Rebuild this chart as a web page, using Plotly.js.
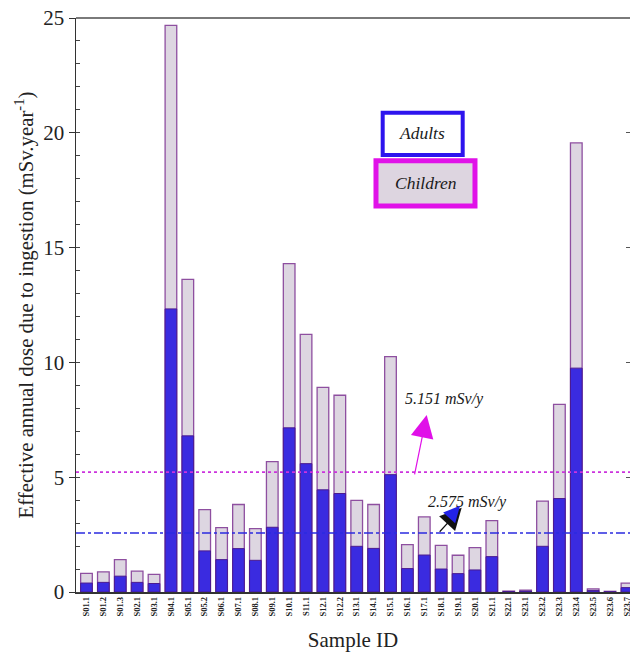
<!DOCTYPE html>
<html>
<head>
<meta charset="utf-8">
<script src="https://cdn.plot.ly/plotly-3.0.1.min.js"></script>
<style>html,body{margin:0;padding:0;background:#fff;}#chart{width:630px;height:652px;}</style>
</head>
<body>
<div id="chart"></div>
<script>
const sampleIds = ["S01.1","S01.2","S01.3","S02.1","S03.1","S04.1","S05.1","S05.2","S06.1","S07.1","S08.1","S09.1","S10.1","S11.1","S12.1","S12.2","S13.1","S14.1","S15.1","S16.1","S17.1","S18.1","S19.1","S20.1","S21.1","S22.1","S23.1","S23.2","S23.3","S23.4","S23.5","S23.6","S23.7"];
const childrenDose = [0.81,0.88,1.41,0.91,0.77,24.68,13.62,3.59,2.80,3.81,2.76,5.68,14.30,11.22,8.91,8.57,3.99,3.81,10.25,2.06,3.27,2.03,1.60,1.93,3.11,0.04,0.08,3.96,8.17,19.56,0.14,0.03,0.39];
const adultsDose = [0.39,0.42,0.69,0.42,0.37,12.33,6.80,1.79,1.41,1.89,1.38,2.82,7.15,5.59,4.45,4.29,1.99,1.90,5.11,1.02,1.61,1.00,0.80,0.96,1.54,0.02,0.04,1.99,4.07,9.75,0.07,0.01,0.19];
const childrenLimit = 5.22;   // drawn position of the children reference line
const adultsLimit = 2.575;
const childrenLabel = "5.151 mSv/y";
const adultsLabel = "2.575 mSv/y";

const serif = "Liberation Serif";

const traces = [
  {type:'bar', x:sampleIds, y:childrenDose, width:0.69, name:'Children',
   marker:{color:'#ddd6e1', line:{color:'#8e4fa0', width:1.3}}, showlegend:false},
  {type:'bar', x:sampleIds, y:adultsDose, width:0.69, name:'Adults',
   marker:{color:'#3a2be0', line:{color:'#4a1a90', width:1}}, showlegend:false},
  {type:'scatter', x:[sampleIds[0]], y:[0], yaxis:'y2', mode:'markers', marker:{opacity:0}, showlegend:false, hoverinfo:'skip'}
];

function ann(x, y, text, size) {
  return {xref:'paper', yref:'paper', x:x, y:y, xanchor:'center', yanchor:'middle',
          text:text, showarrow:false, font:{family:serif, size:size, color:'#1a1a1a', style:'italic'}};
}

const layout = {
  width:630, height:652,
  margin:{l:76, r:0, t:18, b:60},
  paper_bgcolor:'#fff', plot_bgcolor:'#fff',
  barmode:'overlay',
  font:{family:serif, color:'#222'},
  xaxis:{
    type:'category', range:[-0.62, 32.18],
    tickangle:-90, tickfont:{family:serif, size:8.5, color:'#222', weight:'bold'},
    ticks:'', showgrid:false, zeroline:false,
    showline:true, linecolor:'#333', linewidth:1.5,
    title:{text:'Sample ID', font:{family:serif, size:21, color:'#222'}, standoff:20}
  },
  yaxis:{
    range:[0,25], dtick:5, tick0:0,
    ticks:'outside', ticklen:6, tickcolor:'#333', tickwidth:1,
    minor:{dtick:1, ticks:'inside', ticklen:4, tickcolor:'#444', showgrid:false},
    tickfont:{family:serif, size:21, color:'#222'},
    showgrid:false, zeroline:false,
    showline:true, linecolor:'#333', linewidth:1.5,
    title:{text:'Effective annual dose due to ingestion (mSv.year<sup>-1</sup>)', font:{family:serif, size:20.8, color:'#222'}, standoff:4}
  },
  yaxis2:{
    overlaying:'y', side:'right', range:[0,25], dtick:5,
    ticks:'inside', ticklen:4, tickcolor:'#555',
    showticklabels:false, showgrid:false, zeroline:false, showline:false
  },
  shapes:[
    {type:'line', xref:'paper', yref:'paper', x0:0, x1:1, y0:1, y1:1, line:{color:'#7a7a7a', width:2}},
    {type:'line', xref:'paper', yref:'y', x0:0, x1:1, y0:childrenLimit, y1:childrenLimit, line:{color:'#cc33dd', width:1.6, dash:'dot'}},
    {type:'line', xref:'paper', yref:'y', x0:0, x1:1, y0:adultsLimit, y1:adultsLimit, line:{color:'#2b2be0', width:1.5, dash:'dashdot'}},
    {type:'rect', xref:'paper', yref:'paper', x0:0.5536, x1:0.698, y0:0.7613, y1:0.835, fillcolor:'#ffffff', line:{color:'#2d14ee', width:4}},
    {type:'rect', xref:'paper', yref:'paper', x0:0.5415, x1:0.7202, y0:0.6725, y1:0.7514, fillcolor:'#ddd5e0', line:{color:'#e012e8', width:5}}
  ],
  annotations:[
    ann(0.6245, 0.7997, 'Adults', 17.5),
    ann(0.631, 0.7134, 'Children', 17.5),
    ann(0.665, 0.336, childrenLabel, 16),
    ann(0.7067, 0.1568, adultsLabel, 16),
    {xref:'paper', yref:'paper', x:0.633, y:0.3084, ax:-12.4, ay:61, text:'', showarrow:true, arrowhead:2, arrowsize:3.8, arrowwidth:1.2, arrowcolor:'#e010e8'},
    {xref:'paper', yref:'paper', x:0.6962, y:0.1469, ax:-23.4, ay:25.6, text:'', showarrow:true, arrowhead:2, arrowsize:3.6, arrowwidth:1.2, arrowcolor:'#111'},
    {xref:'paper', yref:'paper', x:0.6932, y:0.1501, ax:-8, ay:8.8, text:'', showarrow:true, arrowhead:2, arrowsize:2.7, arrowwidth:1.2, arrowcolor:'#2222e8'}
  ]
};

Plotly.newPlot('chart', traces, layout, {displayModeBar:false, staticPlot:true});
</script>
</body>
</html>
